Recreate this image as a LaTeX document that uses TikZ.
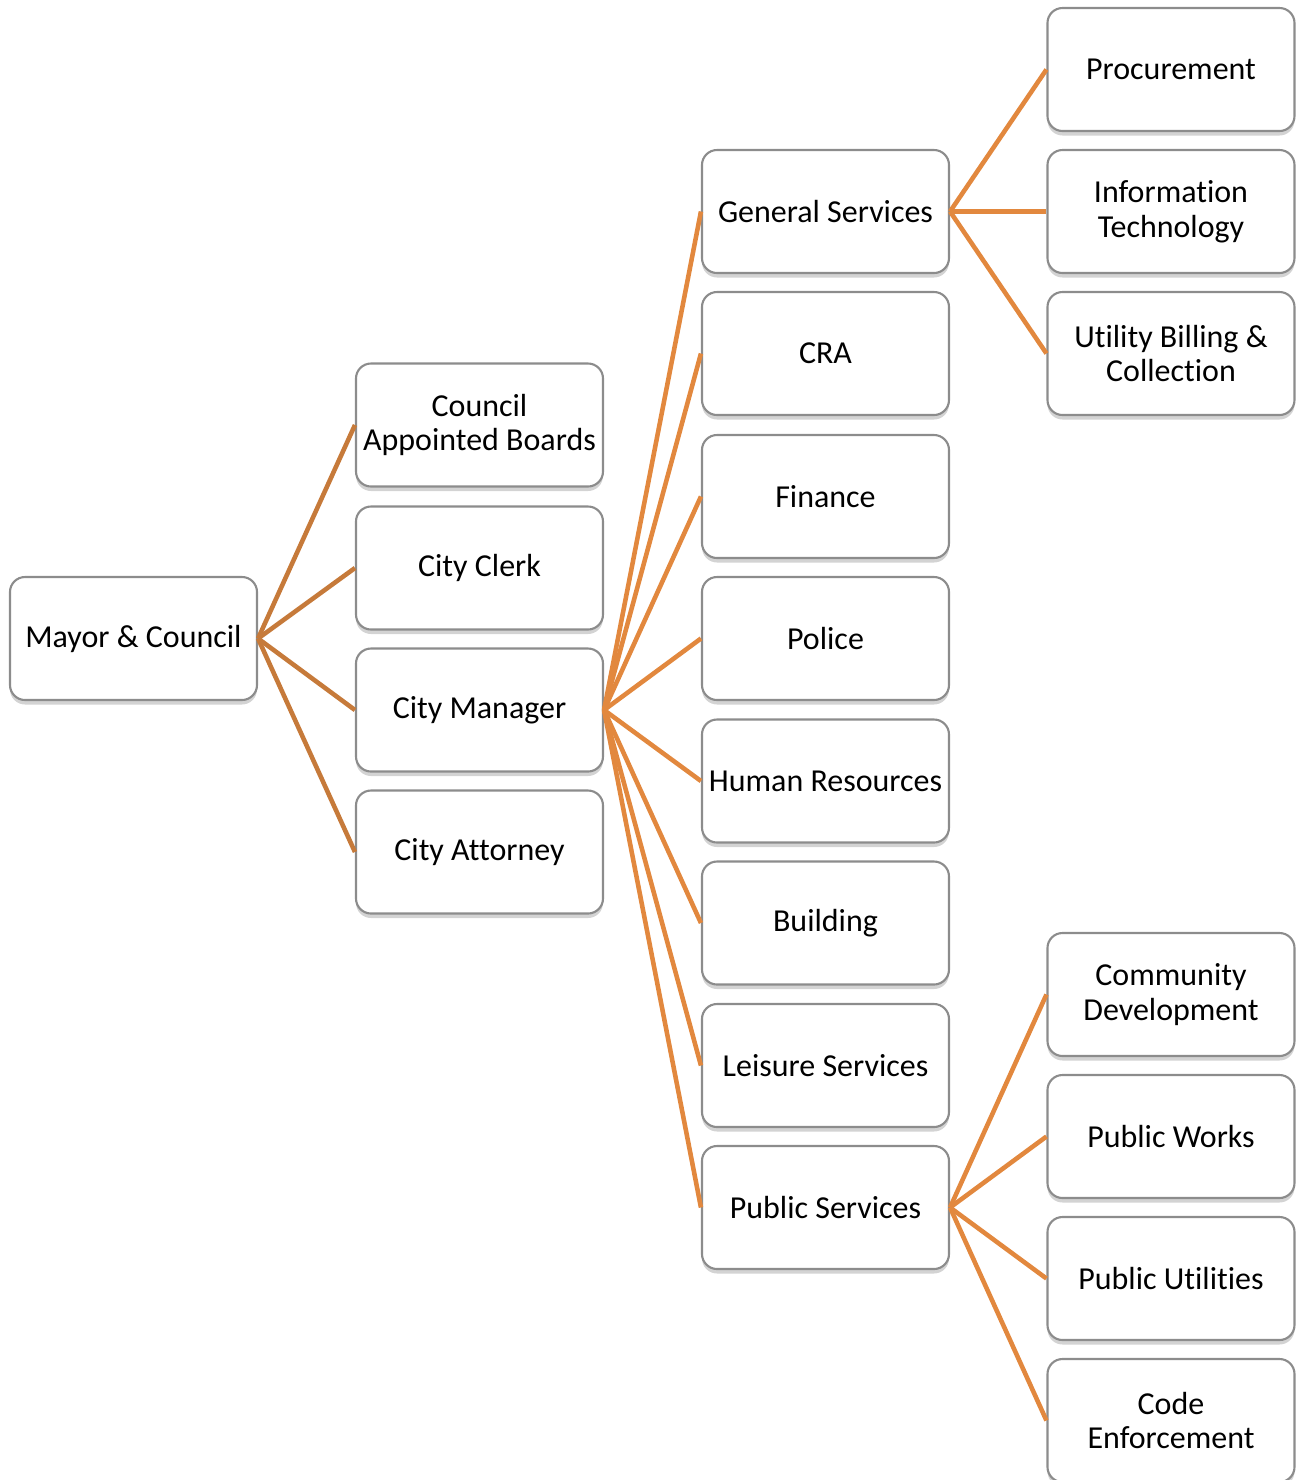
\documentclass[tikz,border=0pt]{standalone}
\usepackage{fontspec}
\setmainfont[Ligatures={NoCommon,NoContextual},RawFeature={-liga;-clig}]{Carlito}
\usepackage{xcolor}
\usetikzlibrary{shadows,positioning}

\definecolor{boxline}{RGB}{140,140,140}
\definecolor{linkdark}{RGB}{198,122,58}
\definecolor{linklight}{RGB}{226,136,62}

\tikzset{
    unit/.style={draw=boxline, line width=0.6pt, fill=white, rounded corners=0.15cm,
        minimum width=2.47cm, minimum height=1.23cm, align=center,
        inner sep=1pt, font=\fontsize{9.1}{9.9}\selectfont,
        drop shadow={shadow xshift=0pt, shadow yshift=-0.045cm, opacity=0.35}},
    link/.style={line width=1.3pt, color=linklight},
    toplink/.style={link, color=linkdark}
}

\begin{document}
\begin{tikzpicture}
    \useasboundingbox (0,0) rectangle (12.96,-14.80);

    % Level 1
    \node[unit] (mayor) at (1.335,-6.385) {Mayor \& Council};

    % Level 2
    \node[unit] (boards) at (4.795,-4.25) {Council\\Appointed Boards};
    \node[unit] (clerk) at (4.795,-5.68) {City Clerk};
    \node[unit] (manager) at (4.795,-7.10) {City Manager};
    \node[unit] (attorney) at (4.795,-8.52) {City Attorney};

    % Level 3 - departments
    \node[unit] (general) at (8.255,-2.115) {General Services};
    \node[unit] (cra) at (8.255,-3.535) {CRA};
    \node[unit] (finance) at (8.255,-4.965) {Finance};
    \node[unit] (police) at (8.255,-6.385) {Police};
    \node[unit] (hr) at (8.255,-7.81) {Human Resources};
    \node[unit] (building) at (8.255,-9.23) {Building};
    \node[unit] (leisure) at (8.255,-10.655) {Leisure Services};
    \node[unit] (public) at (8.255,-12.075) {Public Services};

    % Level 4 - divisions
    \node[unit] (procure) at (11.71,-0.695) {Procurement};
    \node[unit] (it) at (11.71,-2.115) {Information\\Technology};
    \node[unit] (billing) at (11.71,-3.535) {Utility Billing \&\\Collection};
    \node[unit] (commdev) at (11.71,-9.945) {Community\\Development};
    \node[unit] (works) at (11.71,-11.365) {Public Works};
    \node[unit] (utilities) at (11.71,-12.785) {Public Utilities};
    \node[unit] (code) at (11.71,-14.205) {Code\\Enforcement};

    % Connectors
    \draw[toplink] (mayor.east) -- (boards.west);
    \draw[toplink] (mayor.east) -- (clerk.west);
    \draw[toplink] (mayor.east) -- (manager.west);
    \draw[toplink] (mayor.east) -- (attorney.west);

    \draw[link] (manager.east) -- (general.west);
    \draw[link] (manager.east) -- (cra.west);
    \draw[link] (manager.east) -- (finance.west);
    \draw[link] (manager.east) -- (police.west);
    \draw[link] (manager.east) -- (hr.west);
    \draw[link] (manager.east) -- (building.west);
    \draw[link] (manager.east) -- (leisure.west);
    \draw[link] (manager.east) -- (public.west);

    \draw[link] (general.east) -- (procure.west);
    \draw[link] (general.east) -- (it.west);
    \draw[link] (general.east) -- (billing.west);

    \draw[link] (public.east) -- (commdev.west);
    \draw[link] (public.east) -- (works.west);
    \draw[link] (public.east) -- (utilities.west);
    \draw[link] (public.east) -- (code.west);
\end{tikzpicture}
\end{document}
